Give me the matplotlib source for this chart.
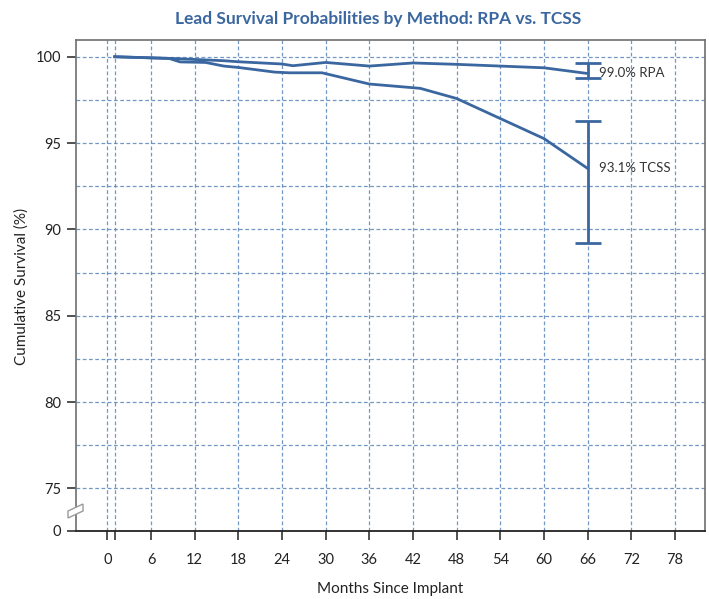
import matplotlib
matplotlib.use("Agg")
import matplotlib.pyplot as plt
from matplotlib.patches import Polygon

plt.rcParams['font.family'] = ['Lato', 'DejaVu Sans']

# ---- data ----
rpa_months = [1, 9, 16, 18, 24, 25.5, 30, 36, 42, 48, 60, 66]
rpa_surv = [100.0, 99.9, 99.77, 99.71, 99.58, 99.48, 99.67, 99.46, 99.64, 99.56, 99.36, 99.03]

tcss_months = [1, 8.5, 10, 13.5, 16, 18, 23, 25, 29.5, 36, 43, 48, 60, 66]
tcss_surv = [100.0, 99.9, 99.7, 99.67, 99.46, 99.38, 99.11, 99.07, 99.07, 98.42, 98.17, 97.58, 95.26, 93.53]

end_month = 66
rpa_ci = (98.78, 99.65)
tcss_ci = (89.22, 96.25)
rpa_label = "99.0% RPA"
tcss_label = "93.1% TCSS"

x_ticks = [0, 6, 12, 18, 24, 30, 36, 42, 48, 54, 60, 66, 72, 78]
x_grid = [0, 1] + x_ticks[1:]
y_major = [75, 80, 85, 90, 95, 100]
y_grid = [75, 77.5, 80, 82.5, 85, 87.5, 90, 92.5, 95, 97.5, 100]
y_zero_pos = 72.53   # where the "0" of the broken axis sits

title = "Lead Survival Probabilities by Method: RPA vs. TCSS"
xlabel = "Months Since Implant"
ylabel = "Cumulative Survival (%)"

# ---- styling ----
line_color = "#3b67a0"
grid_color = "#5a85bb"
text_color = "#222222"

fig = plt.figure(figsize=(7.09, 5.99), dpi=100)
ax = fig.add_axes([76/709, 1-531/599, (705-76)/709, (531-40)/599])

ax.set_xlim(-4.31, 82.13)
ax.set_ylim(y_zero_pos, 100.97)

for gx in x_grid:
    ax.axvline(gx, color=grid_color, lw=0.9, ls=(0, (3, 2)), zorder=1, alpha=0.85)
for gy in y_grid:
    ax.axhline(gy, color=grid_color, lw=0.9, ls=(0, (3, 2)), zorder=1, alpha=0.85)

ax.plot(rpa_months, rpa_surv, color=line_color, lw=2.0, zorder=3, solid_joinstyle='round')
ax.plot(tcss_months, tcss_surv, color=line_color, lw=2.0, zorder=3, solid_joinstyle='round')

ax.errorbar([end_month], [(rpa_ci[0] + rpa_ci[1]) / 2],
            yerr=[[(rpa_ci[1] - rpa_ci[0]) / 2]], fmt='none',
            ecolor=line_color, elinewidth=2.0, capsize=9.5, capthick=2.0, zorder=3)
ax.errorbar([end_month], [(tcss_ci[0] + tcss_ci[1]) / 2],
            yerr=[[(tcss_ci[1] - tcss_ci[0]) / 2]], fmt='none',
            ecolor=line_color, elinewidth=2.0, capsize=9.5, capthick=2.0, zorder=3)

ax.text(end_month + 1.5, rpa_surv[-1], rpa_label, fontsize=9.5, color="#333333",
        va='center', ha='left', zorder=4)
ax.text(end_month + 1.5, tcss_surv[-1], tcss_label, fontsize=9.5, color="#333333",
        va='center', ha='left', zorder=4)

ax.set_xticks(x_ticks + [1])
ax.set_xticklabels([str(t) for t in x_ticks] + [""])
ax.set_yticks([y_zero_pos] + y_major)
ax.set_yticklabels(["0"] + [str(v) for v in y_major])
ax.tick_params(axis='both', direction='out', length=6.5, width=1.2, color="#333333",
               labelsize=10.5, labelcolor=text_color)
ax.tick_params(axis='x', pad=9)
ax.tick_params(axis='y', pad=4)

for side in ['left', 'top', 'right']:
    ax.spines[side].set_color("#6e6e6e")
    ax.spines[side].set_linewidth(1.2)
ax.spines['bottom'].set_color("#222222")
ax.spines['bottom'].set_linewidth(1.3)

fig.text(390/709, 1 - 589/599, xlabel, fontsize=11, color=text_color,
         ha='center', va='center')
fig.text(22/709, 1 - 286/599, ylabel, fontsize=11, color=text_color,
         ha='center', va='center', rotation=90)

# axis break marker on the left spine
def px2fig(x, y):
    return (x / 709, 1 - y / 599)
quad = [px2fig(68, 518), px2fig(83, 511), px2fig(83, 504), px2fig(68, 511)]
fig.patches.append(Polygon(quad, closed=True, transform=fig.transFigure,
                           facecolor='white', edgecolor='#9a9a9a', lw=1.0, zorder=10))

fig.text(378/709, 1 - 19/599, title, fontsize=12.5, fontweight='bold',
         color="#3b67a0", ha='center', va='center')

fig.savefig("out.png", dpi=100)
